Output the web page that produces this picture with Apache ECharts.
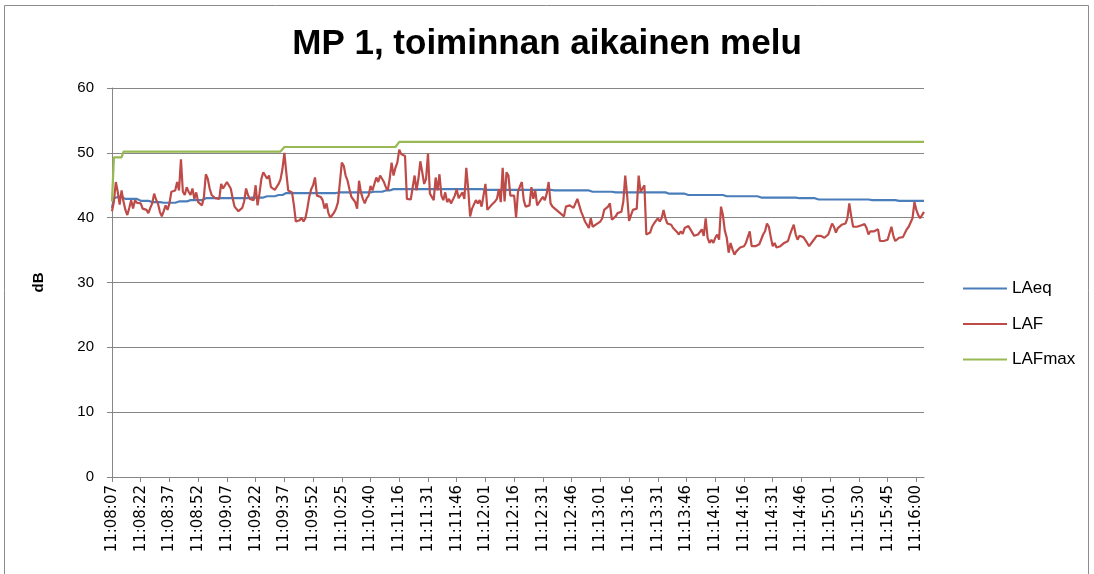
<!DOCTYPE html>
<html>
<head>
<meta charset="utf-8">
<script src="https://cdn.jsdelivr.net/npm/echarts@6/dist/echarts.min.js"></script>
<style>
  html, body { margin: 0; padding: 0; background: #fff; }
  #chart { width: 1094px; height: 574px; }
</style>
</head>
<body>
<div id="chart"></div>
<script>
// time runs: [first timestamp, number of 1 s samples] (the log has gaps)
var timeRuns = [['11:08:07', 114], ['11:10:19', 32], ['11:11:12', 239], ['11:15:25', 40]];

// LAF, one value per sample
var laf = [
  41.0, 42.5, 45.5, 44.0, 42.0, 44.2, 42.5, 41.2, 40.4, 41.5,
  42.7, 41.4, 42.7, 42.3, 42.0, 42.2, 41.4, 41.7, 41.2, 40.7,
  41.5, 42.2, 43.7, 42.8, 42.2, 40.9, 40.2, 41.0, 41.9, 41.2,
  42.2, 44.0, 43.7, 44.2, 45.5, 44.2, 49.0, 44.0, 43.5, 44.7,
  44.0, 43.5, 44.5, 42.9, 43.9, 42.4, 42.2, 41.9, 43.2, 46.7,
  46.0, 44.5, 43.5, 43.4, 43.0, 42.7, 42.9, 45.2, 44.5, 45.0,
  45.5, 45.0, 44.5, 43.0, 41.7, 41.4, 41.0, 40.7, 41.5, 42.5,
  44.5, 43.5, 42.9, 42.8, 42.7, 45.0, 41.9, 43.7, 46.0, 47.0,
  47.2, 46.0, 46.5, 44.7, 44.5, 44.3, 44.5, 45.2, 45.9, 47.5,
  50.0, 47.0, 44.2, 44.0, 43.9, 41.9, 39.4, 39.5, 39.6, 40.0,
  39.4, 39.9, 41.4, 43.2, 44.4, 45.0, 46.2, 43.4, 43.3, 43.2,
  42.7, 41.4, 42.2, 40.7, 40.0, 40.2, 40.8, 41.4, 42.4, 42.7,
  48.5, 48.0, 46.5, 45.7, 44.4, 43.2, 42.8, 42.4, 41.4, 45.7,
  43.9, 42.9, 42.2, 43.0, 43.4, 44.9, 44.2, 45.2, 46.2, 45.5,
  46.5, 46.7, 45.5, 44.7, 44.2, 46.0, 48.5, 46.5, 47.7, 48.5,
  50.5, 49.8, 50.0, 49.5, 42.9, 42.7, 42.8, 42.9, 46.5, 44.2,
  46.0, 48.7, 47.0, 45.2, 46.0, 49.9, 43.7, 43.4, 42.7, 46.2,
  44.2, 46.7, 43.4, 42.7, 43.9, 42.4, 42.9, 42.2, 42.4, 43.4,
  44.4, 43.0, 42.7, 43.9, 42.9, 47.7, 44.4, 40.2, 41.4, 41.2,
  42.7, 42.2, 42.7, 41.7, 42.0, 45.2, 41.2, 41.4, 41.9, 42.2,
  42.5, 42.9, 44.4, 42.4, 47.7, 42.5, 47.0, 46.5, 43.4, 43.2,
  43.4, 40.0, 44.0, 44.8, 45.5, 42.7, 41.7, 41.8, 41.9, 44.7,
  42.9, 44.2, 41.9, 42.2, 42.8, 43.2, 42.7, 43.7, 45.5, 42.2,
  41.7, 41.4, 41.2, 40.9, 40.7, 40.7, 40.2, 41.7, 41.4, 41.9,
  41.7, 41.5, 41.4, 42.9, 42.7, 40.9, 40.2, 39.4, 38.9, 38.4,
  39.9, 38.6, 38.9, 39.0, 39.1, 39.4, 39.9, 41.2, 41.4, 41.7,
  42.2, 39.7, 39.5, 40.2, 40.7, 40.7, 40.9, 42.5, 46.5, 43.4,
  39.5, 40.4, 41.2, 41.3, 41.4, 46.5, 44.0, 44.5, 45.0, 37.4,
  37.5, 37.7, 38.6, 39.1, 39.5, 39.9, 39.4, 39.9, 41.2, 39.9,
  39.1, 38.9, 38.9, 38.4, 38.2, 37.8, 37.4, 37.9, 37.5, 38.4,
  38.2, 38.7, 38.9, 37.7, 37.2, 36.9, 37.4, 37.7, 38.2, 37.2,
  39.9, 36.9, 36.1, 36.6, 36.1, 36.9, 37.4, 36.6, 41.7, 40.4,
  38.0, 36.9, 34.6, 36.1, 35.1, 34.3, 34.8, 35.1, 35.4, 35.1,
  35.6, 36.1, 35.9, 37.9, 35.6, 35.4, 35.6, 35.9, 35.9, 35.6,
  37.4, 37.9, 39.1, 38.6, 37.0, 35.6, 36.1, 35.4, 35.6, 35.6,
  35.8, 36.1, 35.9, 36.4, 37.4, 38.2, 38.9, 37.4, 36.6, 37.2,
  36.9, 37.0, 37.0, 36.1, 35.6, 35.4, 36.4, 36.6, 37.2, 37.4,
  37.2, 37.2, 36.9, 37.2, 37.4, 37.5, 39.1, 38.6, 37.7, 38.4,
  38.2, 38.9, 38.9, 39.1, 39.9, 42.2, 40.2, 38.6, 38.4, 38.6,
  38.6, 38.8, 38.9, 39.0, 38.4, 37.4, 37.9, 37.9, 37.9, 37.7,
  38.2, 36.4, 36.1, 36.4, 36.5, 36.6, 36.9, 38.6, 37.2, 36.4,
  36.4, 36.9, 37.2, 37.0, 36.9, 38.2, 38.6, 38.9, 39.9, 42.4,
  41.2, 40.4, 39.9, 40.2, 40.9
];

// LAeq and LAFmax change in steps: [level, number of samples]
var laeqRuns = [
  [41.5, 1], [43.0, 1], [43.2, 5], [42.9, 7], [42.6, 7], [42.4, 5], [42.3, 8],
  [42.5, 7], [42.7, 7], [43.0, 24], [43.1, 8], [43.3, 6], [43.5, 4], [43.8, 29],
  [43.9, 18], [44.0, 5], [44.2, 5], [44.4, 48], [44.3, 35], [44.2, 21], [44.0, 11],
  [43.9, 28], [43.7, 10], [43.5, 20], [43.3, 18], [43.1, 20], [43.0, 11], [42.8, 28],
  [42.7, 14], [42.6, 14]
];
var lafmaxRuns = [[42.5, 1], [49.3, 5], [50.2, 84], [50.9, 60], [51.7, 275]];

var yTicks = [0, 10, 20, 30, 40, 50, 60];

function pad(n) { return n < 10 ? '0' + n : '' + n; }

var times = [];
timeRuns.forEach(function (run) {
    var p = run[0].split(':').map(Number);
    var t0 = p[0] * 3600 + p[1] * 60 + p[2];
    for (var i = 0; i < run[1]; i++) {
        var t = t0 + i;
        times.push(Math.floor(t / 3600) + ':' + pad(Math.floor(t / 60) % 60) + ':' + pad(t % 60));
    }
});

function unrun(runs) {
    var out = [];
    runs.forEach(function (r) { for (var i = 0; i < r[1]; i++) out.push(r[0]); });
    return out;
}
var laeq = unrun(laeqRuns);
var lafmax = unrun(lafmaxRuns);

var chart = echarts.init(document.getElementById('chart'));
chart.setOption({
    animation: false,
    title: {
        text: 'MP 1, toiminnan aikainen melu',
        left: 'center',
        top: 22,
        textStyle: { fontFamily: 'Liberation Sans', fontSize: 35, fontWeight: 'bold', color: '#000' }
    },
    graphic: [{
        type: 'rect',
        shape: { x: 4.5, y: 5.5, width: 1084, height: 580 },
        style: { fill: null, stroke: '#8c8c8c', lineWidth: 1 },
        silent: true
    }],
    legend: {
        orient: 'vertical',
        left: 958,
        top: 275,
        icon: 'rect',
        itemWidth: 44,
        itemHeight: 2,
        itemGap: 18.5,
        textStyle: { fontFamily: 'Liberation Sans', fontSize: 17, color: '#000' },
        data: ['LAeq', 'LAF', 'LAFmax']
    },
    grid: { left: 112, top: 88, right: 170, bottom: 97 },
    xAxis: {
        type: 'category',
        boundaryGap: false,
        data: times,
        axisLine: { lineStyle: { color: '#868686' } },
        axisTick: { interval: 14, length: 5, lineStyle: { color: '#868686' } },
        axisLabel: {
            interval: 14, rotate: 90, margin: 8,
            fontFamily: 'DejaVu Sans', fontSize: 15, color: '#000'
        },
        splitLine: { show: false }
    },
    yAxis: {
        type: 'value',
        min: yTicks[0],
        max: yTicks[yTicks.length - 1],
        interval: 10,
        name: 'dB',
        nameLocation: 'middle',
        nameRotate: 90,
        nameGap: 66,
        nameTextStyle: { fontFamily: 'Liberation Sans', fontSize: 15, fontWeight: 'bold', color: '#000' },
        axisLine: { show: true, lineStyle: { color: '#868686' } },
        axisTick: { show: true, length: 5, lineStyle: { color: '#868686' } },
        axisLabel: { margin: 18, fontFamily: 'Liberation Sans', fontSize: 15, color: '#000' },
        splitLine: { lineStyle: { color: '#868686', width: 1 } }
    },
    series: [
        { name: 'LAeq', type: 'line', data: laeq, symbol: 'none', color: '#4a7ebb', lineStyle: { width: 2.2 } },
        { name: 'LAF', type: 'line', data: laf, symbol: 'none', color: '#be4b48', lineStyle: { width: 2.2 } },
        { name: 'LAFmax', type: 'line', data: lafmax, symbol: 'none', color: '#98b954', lineStyle: { width: 2.2 } }
    ]
});
</script>
</body>
</html>
